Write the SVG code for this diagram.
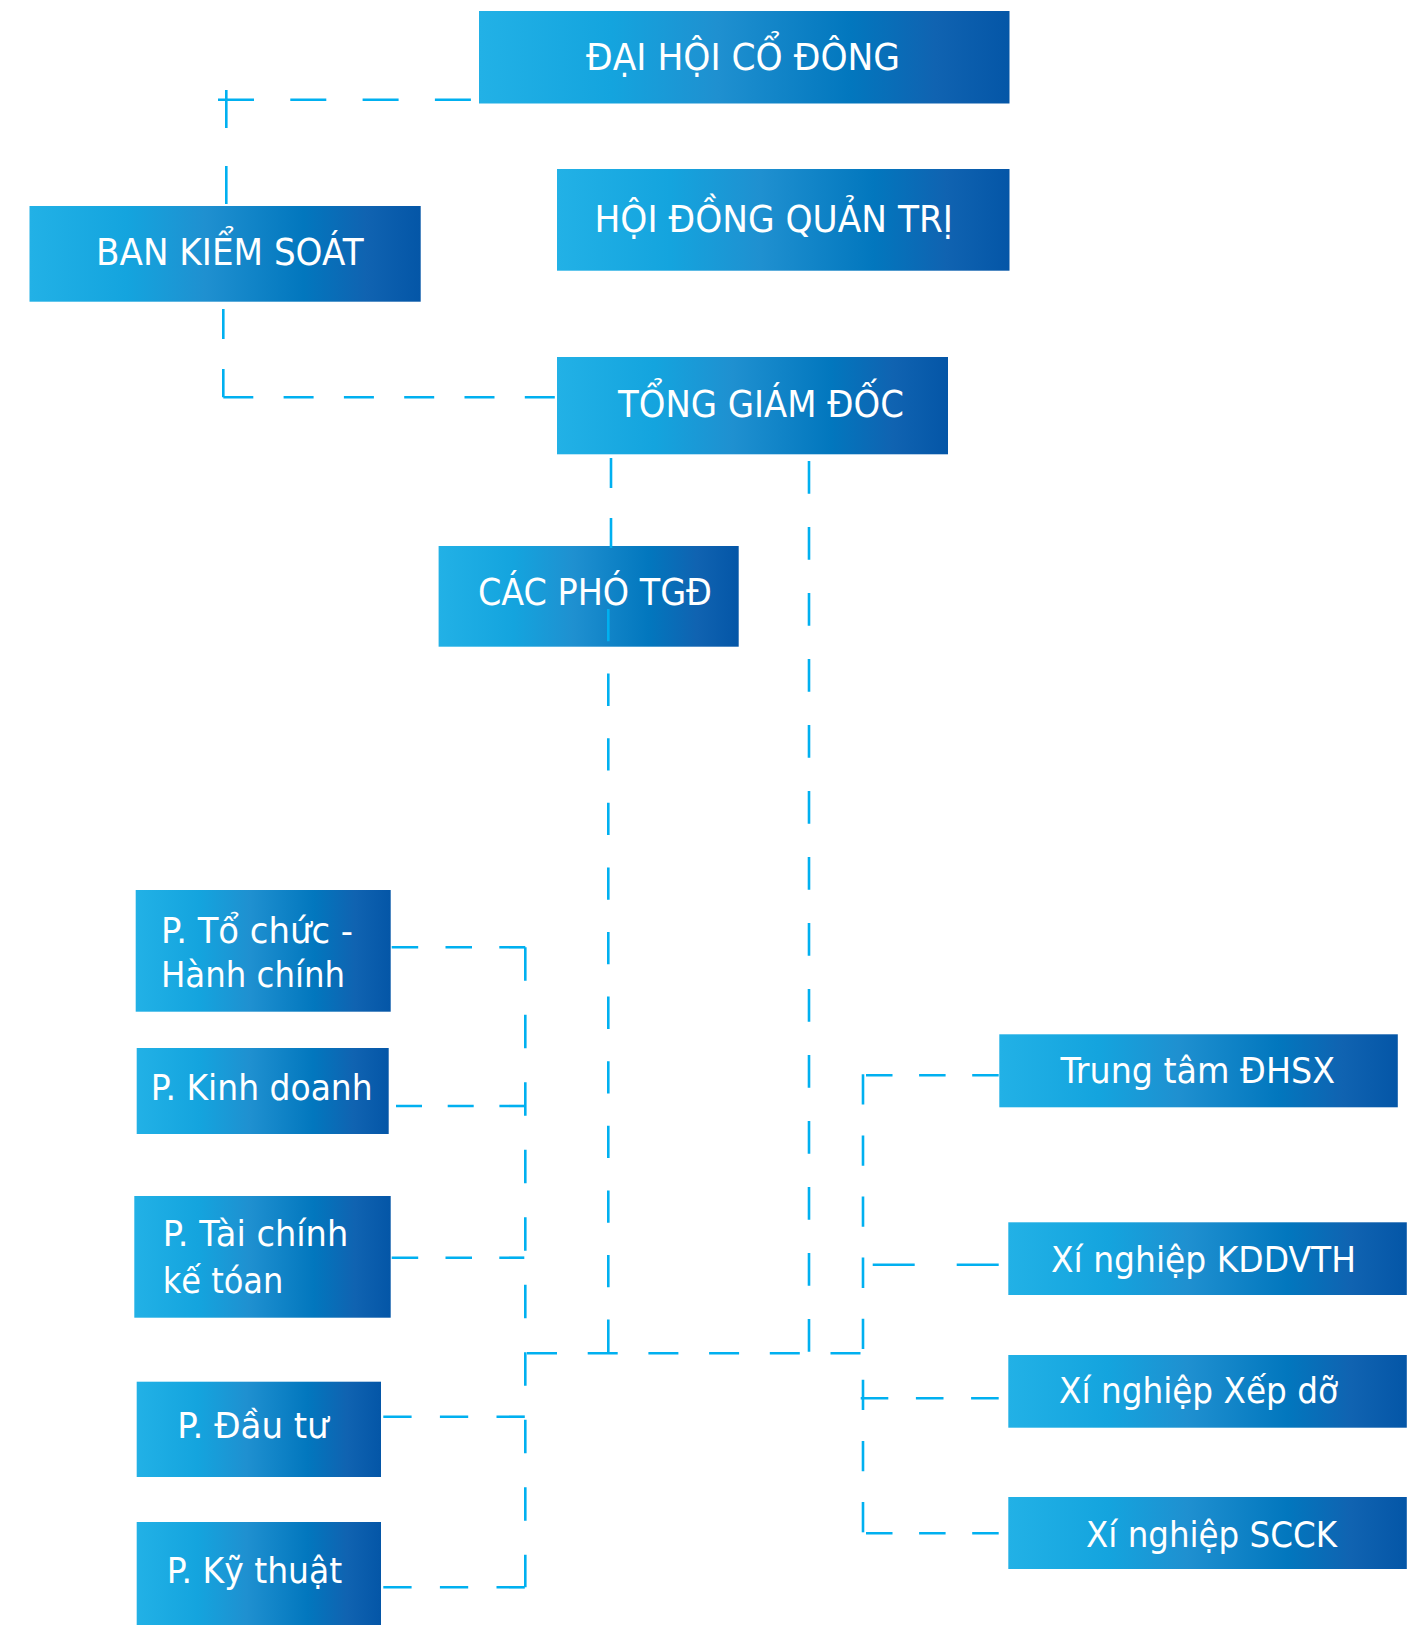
<svg xmlns="http://www.w3.org/2000/svg" width="1423" height="1625" viewBox="0 0 1423 1625">
<style>
.box{fill:url(#g)}
.t{font-family:"DejaVu Sans","Liberation Sans",sans-serif;font-size:36px;fill:#ffffff}
.u{font-size:37.5px}
.c{fill:none;stroke:#00b0f0;stroke-width:2.6}
</style>
<defs>
<linearGradient id="g" x1="0" y1="0" x2="1" y2="0">
<stop offset="0" stop-color="#22b1e6"/>
<stop offset="0.25" stop-color="#14a4de"/>
<stop offset="0.45" stop-color="#1f90d0"/>
<stop offset="0.7" stop-color="#0277be"/>
<stop offset="0.86" stop-color="#1063b1"/>
<stop offset="1" stop-color="#0456a7"/>
</linearGradient>
</defs>
<rect width="1423" height="1625" fill="#ffffff"/>
<g id="n-daihoi"><rect class="box" x="479" y="11" width="530.5" height="92.5"/><text class="t u" x="586" y="70" textLength="314" lengthAdjust="spacingAndGlyphs">ĐẠI HỘI CỔ ĐÔNG</text></g>
<g id="n-hdqt"><rect class="box" x="557" y="169" width="452.5" height="101.7"/><text class="t u" x="594.5" y="232.3" textLength="358.5" lengthAdjust="spacingAndGlyphs">HỘI ĐỒNG QUẢN TRỊ</text></g>
<g id="n-bks"><rect class="box" x="29.5" y="206" width="391.2" height="95.7"/><text class="t u" x="96" y="265" textLength="267.6" lengthAdjust="spacingAndGlyphs">BAN KIỂM SOÁT</text></g>
<g id="n-tgd"><rect class="box" x="557" y="357" width="391" height="97.3"/><text class="t u" x="618" y="417.3" textLength="286" lengthAdjust="spacingAndGlyphs">TỔNG GIÁM ĐỐC</text></g>
<g id="n-pho"><rect class="box" x="438.6" y="546" width="300.1" height="100.7"/><text class="t u" x="478" y="605" textLength="234" lengthAdjust="spacingAndGlyphs">CÁC PHÓ TGĐ</text></g>
<g id="n-tochuc"><rect class="box" x="135.7" y="890" width="255" height="121.7"/><text class="t" x="161" y="942.7" textLength="192" lengthAdjust="spacingAndGlyphs">P. Tổ chức -</text><text class="t" x="161" y="987.3" textLength="184" lengthAdjust="spacingAndGlyphs">Hành chính</text></g>
<g id="n-kinhdoanh"><rect class="box" x="136.7" y="1048" width="252" height="86"/><text class="t" x="150.7" y="1100" textLength="222" lengthAdjust="spacingAndGlyphs">P. Kinh doanh</text></g>
<g id="n-taichinh"><rect class="box" x="134.3" y="1196" width="256.4" height="121.7"/><text class="t" x="162.7" y="1245.7" textLength="185.6" lengthAdjust="spacingAndGlyphs">P. Tài chính</text><text class="t" x="162.7" y="1293.3" textLength="120.6" lengthAdjust="spacingAndGlyphs">kế tóan</text></g>
<g id="n-dautu"><rect class="box" x="136.7" y="1381.7" width="244.3" height="95.3"/><text class="t" x="177.3" y="1438.3" textLength="151.4" lengthAdjust="spacingAndGlyphs">P. Đầu tư</text></g>
<g id="n-kythuat"><rect class="box" x="136.7" y="1522" width="244.3" height="103"/><text class="t" x="166.7" y="1583.3" textLength="175.6" lengthAdjust="spacingAndGlyphs">P. Kỹ thuật</text></g>
<g id="n-dhsx"><rect class="box" x="999.3" y="1034.3" width="398.5" height="73"/><text class="t" x="1060.4" y="1083" textLength="274.6" lengthAdjust="spacingAndGlyphs">Trung tâm ĐHSX</text></g>
<g id="n-kddvth"><rect class="box" x="1008.3" y="1222.3" width="398.5" height="72.7"/><text class="t" x="1051" y="1272" textLength="305" lengthAdjust="spacingAndGlyphs">Xí nghiệp KDDVTH</text></g>
<g id="n-xepdo"><rect class="box" x="1008.3" y="1355" width="398.5" height="72.7"/><text class="t" x="1059" y="1403" textLength="279" lengthAdjust="spacingAndGlyphs">Xí nghiệp Xếp dỡ</text></g>
<g id="n-scck"><rect class="box" x="1008.3" y="1497" width="398.5" height="72"/><text class="t" x="1086" y="1547" textLength="251" lengthAdjust="spacingAndGlyphs">Xí nghiệp SCCK</text></g>
<g id="connectors">
<path class="c" d="M218,99.7 H478" stroke-dasharray="36 36.3"/>
<path class="c" d="M226.3,90 V204" stroke-dasharray="38 38"/>
<path class="c" d="M223.3,309 V397.3" stroke-dasharray="30 30"/>
<path class="c" d="M223.3,397.3 H556" stroke-dasharray="30 30.3"/>
<path class="c" d="M611,458 V548" stroke-dasharray="30 30"/>
<path class="c" d="M608.3,609 V1353" stroke-dasharray="32.3 32.3"/>
<path class="c" d="M809,461 V1352" stroke-dasharray="32.7 33.3"/>
<path class="c" d="M527,1353.3 H861" stroke-dasharray="30 30.7"/>
<path class="c" d="M525.3,947.3 V1587.3" stroke-dasharray="33.5 34"/>
<path class="c" d="M391.7,947.3 H525.3" stroke-dasharray="26.5 27.3"/>
<path class="c" d="M396,1106 H525.3" stroke-dasharray="26 25.7"/>
<path class="c" d="M391.7,1257.7 H524.3" stroke-dasharray="26.5 27.3"/>
<path class="c" d="M383.3,1416.7 H525.3" stroke-dasharray="28.3 28.3"/>
<path class="c" d="M383.3,1587.3 H525.3" stroke-dasharray="28.3 28.3"/>
<path class="c" d="M863,1074.3 V1533.3" stroke-dasharray="30.3 30.8"/>
<path class="c" d="M866,1075.3 H999" stroke-dasharray="26.5 26.6"/>
<path class="c" d="M872.7,1264.7 H998.7" stroke-dasharray="42 42"/>
<path class="c" d="M860.7,1398.3 H999" stroke-dasharray="27.6 27.6"/>
<path class="c" d="M866,1533.3 H999" stroke-dasharray="26.5 26.6"/>
</g>
</svg>
